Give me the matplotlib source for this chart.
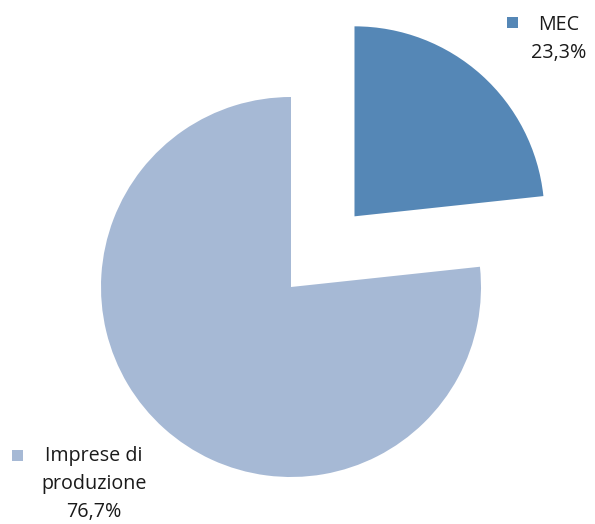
import matplotlib.pyplot as plt
from matplotlib.patches import Rectangle

labels = ['MEC', 'Imprese di\nproduzione']
shares = [23.3, 76.7]
colors = ['#5587B6', '#A6B9D5']
explode = [0.5, 0.0]  # fraction of radius

W, H = 595, 524
R = 190
fig = plt.figure(figsize=(W / 100, H / 100), dpi=100)
ax = fig.add_axes([0, 0, 1, 1])

# pie() offsets exploded wedges in data units, so scale by the radius
ax.pie(shares, colors=colors, explode=[e * R for e in explode], startangle=90,
       counterclock=False, center=(291, H - 287), radius=R,
       wedgeprops=dict(linewidth=0))

# pie() resets the limits, so set pixel-sized limits afterwards
ax.set_xlim(0, W)
ax.set_ylim(0, H)
ax.set_aspect('equal')
ax.axis('off')

font = dict(family='Open Sans', fontsize=14.2, color='#1a1a1a',
            ha='center', va='center', linespacing=1.5)

def pct(v):
    return f'{v:.1f}%'.replace('.', ',')

# data labels with legend keys
ax.add_patch(Rectangle((507, H - 28), 11, 11, color=colors[0], lw=0))
ax.text(559, H - 39, f'{labels[0]}\n{pct(shares[0])}', **font)

ax.add_patch(Rectangle((12, H - 461), 11, 11, color=colors[1], lw=0))
ax.text(94, H - 484, f'{labels[1]}\n{pct(shares[1])}', **font)

fig.savefig('out.png', dpi=100)
